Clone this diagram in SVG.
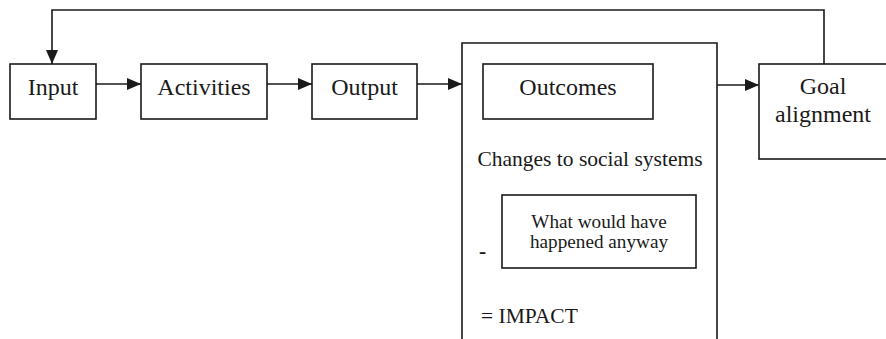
<svg xmlns="http://www.w3.org/2000/svg" width="886" height="339" viewBox="0 0 886 339">
  <style>
    .box { fill: #fff; stroke: #1a1a1a; stroke-width: 1.6; }
    .frame { fill: none; stroke: #1a1a1a; stroke-width: 1.6; }
    .lbl { font-family: "Liberation Serif", "Times New Roman", serif; font-size: 24px; fill: #1a1a1a; text-anchor: middle; }
    .txt { font-family: "Liberation Serif", "Times New Roman", serif; font-size: 21.5px; fill: #1a1a1a; }
    .small { font-family: "Liberation Serif", "Times New Roman", serif; font-size: 19.2px; fill: #1a1a1a; text-anchor: middle; }
    .conn { fill: none; stroke: #1a1a1a; stroke-width: 1.6; }
  </style>
  <defs>
    <marker id="arrow" viewBox="0 0 14 12" refX="14" refY="6" markerWidth="14" markerHeight="12" markerUnits="userSpaceOnUse" orient="auto">
      <path d="M0,0 L14,6 L0,12 Z" fill="#1a1a1a"/>
    </marker>
  </defs>

  <g id="connectors">
    <line class="conn" x1="96" y1="84" x2="141" y2="84" marker-end="url(#arrow)"/>
    <line class="conn" x1="267" y1="84" x2="312" y2="84" marker-end="url(#arrow)"/>
    <line class="conn" x1="417" y1="84" x2="462" y2="84" marker-end="url(#arrow)"/>
    <line class="conn" x1="717" y1="85" x2="759" y2="85" marker-end="url(#arrow)"/>
    <polyline class="conn" points="824,64 824,10 52,10 52,64" marker-end="url(#arrow)"/>
  </g>

  <g id="input">
    <rect class="box" x="10" y="64" width="86" height="55"/>
    <text class="lbl" x="53" y="95">Input</text>
  </g>

  <g id="activities">
    <rect class="box" x="141" y="64" width="126" height="55"/>
    <text class="lbl" x="204" y="95">Activities</text>
  </g>

  <g id="output">
    <rect class="box" x="312" y="64" width="105" height="55"/>
    <text class="lbl" x="364.5" y="95">Output</text>
  </g>

  <g id="impact">
    <path class="frame" d="M462,340 L462,43 L717,43 L717,340"/>
    <g id="outcomes">
      <rect class="box" x="483" y="64" width="170" height="55"/>
      <text class="lbl" x="568" y="95">Outcomes</text>
    </g>
    <text class="txt" x="590" y="166" text-anchor="middle">Changes to social systems</text>
    <text class="txt" x="479" y="258" font-weight="bold">-</text>
    <g id="counterfactual">
      <rect class="box" x="502" y="195" width="194" height="73"/>
      <text class="small" x="599" y="228">What would have</text>
      <text class="small" x="599" y="248">happened anyway</text>
    </g>
    <text class="txt" x="481" y="323">= IMPACT</text>
  </g>

  <g id="goal-alignment">
    <rect class="box" x="759" y="64" width="140" height="95"/>
    <text class="lbl" x="823" y="94">Goal</text>
    <text class="lbl" x="823" y="122">alignment</text>
  </g>
</svg>
